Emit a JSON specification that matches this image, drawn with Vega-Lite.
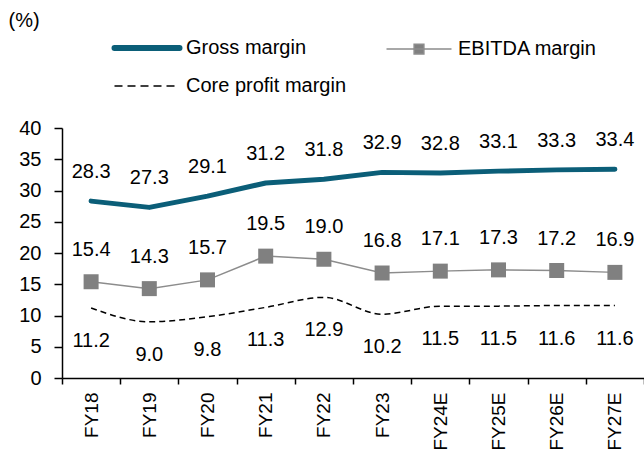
{
  "$schema": "https://vega.github.io/schema/vega-lite/v6.json",
  "width": 582,
  "height": 250,
  "autosize": "none",
  "padding": {"left": 62, "top": 128, "right": 0, "bottom": 75},
  "config": {
    "view": {"stroke": null},
    "font": "Liberation Sans",
    "axis": {"labelFont": "Liberation Sans", "labelFontSize": 20, "labelColor": "#000", "domainColor": "#000", "tickColor": "#000", "domainWidth": 1.5, "tickWidth": 1.5, "grid": false}
  },
  "data": {
    "values": [
      {"year": "FY18", "series": "Gross margin", "value": 28.3},
      {"year": "FY19", "series": "Gross margin", "value": 27.3},
      {"year": "FY20", "series": "Gross margin", "value": 29.1},
      {"year": "FY21", "series": "Gross margin", "value": 31.2},
      {"year": "FY22", "series": "Gross margin", "value": 31.8},
      {"year": "FY23", "series": "Gross margin", "value": 32.9},
      {"year": "FY24E", "series": "Gross margin", "value": 32.8},
      {"year": "FY25E", "series": "Gross margin", "value": 33.1},
      {"year": "FY26E", "series": "Gross margin", "value": 33.3},
      {"year": "FY27E", "series": "Gross margin", "value": 33.4},
      {"year": "FY18", "series": "EBITDA margin", "value": 15.4},
      {"year": "FY19", "series": "EBITDA margin", "value": 14.3},
      {"year": "FY20", "series": "EBITDA margin", "value": 15.7},
      {"year": "FY21", "series": "EBITDA margin", "value": 19.5},
      {"year": "FY22", "series": "EBITDA margin", "value": 19.0},
      {"year": "FY23", "series": "EBITDA margin", "value": 16.8},
      {"year": "FY24E", "series": "EBITDA margin", "value": 17.1},
      {"year": "FY25E", "series": "EBITDA margin", "value": 17.3},
      {"year": "FY26E", "series": "EBITDA margin", "value": 17.2},
      {"year": "FY27E", "series": "EBITDA margin", "value": 16.9},
      {"year": "FY18", "series": "Core profit margin", "value": 11.2},
      {"year": "FY19", "series": "Core profit margin", "value": 9.0},
      {"year": "FY20", "series": "Core profit margin", "value": 9.8},
      {"year": "FY21", "series": "Core profit margin", "value": 11.3},
      {"year": "FY22", "series": "Core profit margin", "value": 12.9},
      {"year": "FY23", "series": "Core profit margin", "value": 10.2},
      {"year": "FY24E", "series": "Core profit margin", "value": 11.5},
      {"year": "FY25E", "series": "Core profit margin", "value": 11.5},
      {"year": "FY26E", "series": "Core profit margin", "value": 11.6},
      {"year": "FY27E", "series": "Core profit margin", "value": 11.6}
    ]
  },
  "encoding": {
    "x": {
      "field": "year", "type": "nominal", "sort": null,
      "scale": {"paddingInner": 0, "paddingOuter": 0},
      "axis": {"title": null, "labelAngle": -90, "labelAlign": "right", "labelBaseline": "middle", "labelFontSize": 19, "tickBand": "extent", "tickSize": 6, "labelPadding": 8}
    },
    "y": {
      "field": "value", "type": "quantitative",
      "scale": {"domain": [0, 40], "nice": false},
      "axis": {"values": [0, 5, 10, 15, 20, 25, 30, 35, 40], "tickSize": 8, "labelPadding": 13, "title": "(%)", "titleAngle": 0, "titleAlign": "left", "titleBaseline": "middle", "titleX": -54, "titleY": -108, "titleFont": "Liberation Sans", "titleFontSize": 20, "titleFontWeight": "normal", "titleColor": "#000"}
    }
  },
  "layer": [
    {
      "transform": [{"filter": "datum.series === 'Gross margin'"}],
      "mark": {"type": "line", "strokeWidth": 5, "strokeCap": "round", "strokeJoin": "round"},
      "encoding": {
        "color": {
          "field": "series", "type": "nominal",
          "scale": {"domain": ["Gross margin", "Core profit margin", "EBITDA margin"], "range": ["#0B5E78", "#000000", "#8C8C8C"]},
          "legend": {
            "orient": "none", "legendX": 75, "legendY": -90, "columns": 2, "columnPadding": 36, "rowPadding": 16,
            "title": null, "labelFont": "Liberation Sans", "labelFontSize": 20, "labelColor": "#000", "labelOffset": 29, "labelLimit": 400,
            "symbolSize": 4225, "symbolType": "stroke",
            "encode": {
              "symbols": {
                "update": {
                  "shape": {"signal": "datum.value === 'EBITDA margin' ? 'M-1,0H1M-0.15,-0.15H0.15V0.15H-0.15Z' : 'stroke'"},
                  "strokeWidth": {"signal": "datum.value === 'Gross margin' ? 6 : 1.5"},
                  "strokeDash": {"signal": "datum.value === 'Core profit margin' ? [8, 5] : [1, 0]"},
                  "strokeCap": {"signal": "datum.value === 'Gross margin' ? 'round' : 'butt'"},
                  "fill": {"signal": "datum.value === 'EBITDA margin' ? '#808080' : 'transparent'"},
                  "fillOpacity": {"value": 1}
                }
              }
            }
          }
        }
      }
    },
    {
      "transform": [{"filter": "datum.series === 'EBITDA margin'"}],
      "mark": {"type": "line", "strokeWidth": 1.5},
      "encoding": {"color": {"field": "series", "type": "nominal"}}
    },
    {
      "transform": [{"filter": "datum.series === 'Core profit margin'"}],
      "mark": {"type": "line", "interpolate": "monotone", "strokeWidth": 1.5, "strokeDash": [6, 4]},
      "encoding": {"color": {"field": "series", "type": "nominal"}}
    },
    {
      "transform": [{"filter": "datum.series === 'EBITDA margin'"}],
      "mark": {"type": "point", "shape": "square", "size": 225, "filled": true, "color": "#808080", "opacity": 1},
      "encoding": {}
    },
    {
      "transform": [{"filter": "datum.series === 'Gross margin'"}],
      "mark": {"type": "text", "dy": -29, "fontSize": 20, "font": "Liberation Sans", "color": "#000", "baseline": "middle"},
      "encoding": {"text": {"field": "value", "type": "quantitative", "format": ".1f"}}
    },
    {
      "transform": [{"filter": "datum.series === 'EBITDA margin'"}],
      "mark": {"type": "text", "dy": -32, "fontSize": 20, "font": "Liberation Sans", "color": "#000", "baseline": "middle"},
      "encoding": {"text": {"field": "value", "type": "quantitative", "format": ".1f"}}
    },
    {
      "transform": [{"filter": "datum.series === 'Core profit margin'"}],
      "mark": {"type": "text", "dy": 33, "fontSize": 20, "font": "Liberation Sans", "color": "#000", "baseline": "middle"},
      "encoding": {"text": {"field": "value", "type": "quantitative", "format": ".1f"}}
    }
  ]
}
